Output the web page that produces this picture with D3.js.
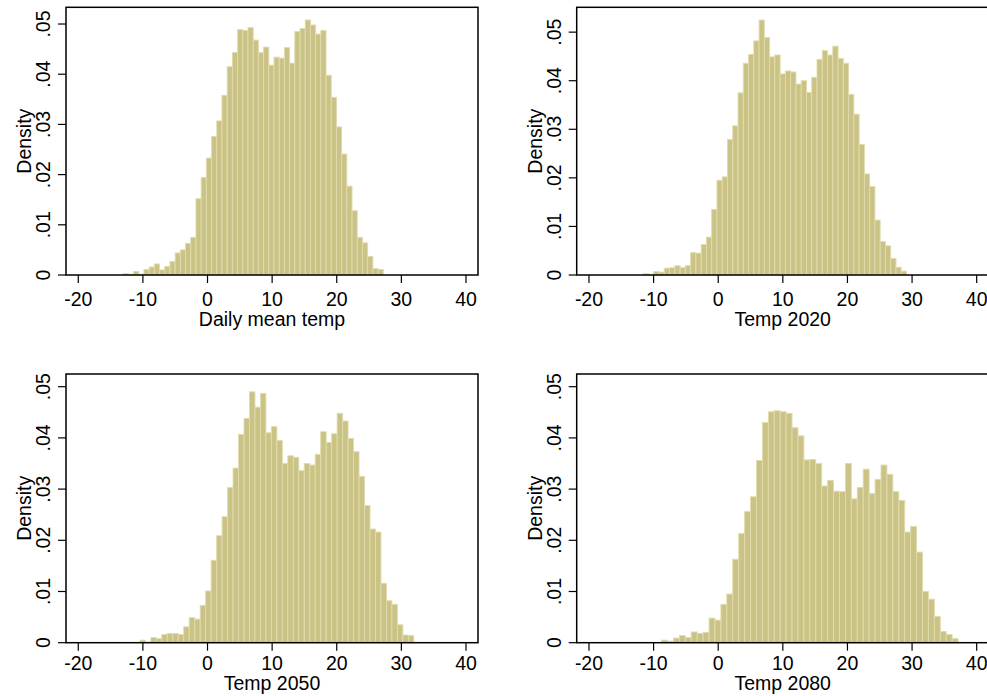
<!DOCTYPE html>
<html>
<head>
<meta charset="utf-8">
<script src="https://cdn.jsdelivr.net/npm/d3@7"></script>
<style>
  html, body { margin: 0; padding: 0; background: #fff; overflow: hidden; }
  svg { display: block; }
  text { font-family: "Liberation Sans", Arial, Helvetica, sans-serif; fill: #000; }
</style>
</head>
<body>
<svg id="chart" width="987" height="696"></svg>
<script>
// ---- data ----
const panelTitles = ["Daily mean temp", "Temp 2020", "Temp 2050", "Temp 2080"];
const binStarts = [-13.06, -11.6, -10.46, -8.76];
const binWidths = [0.8052, 0.8148, 0.8478, 0.9176];

const densityDaily = [.0003, .0001, .0007, .0002, .0011, .0016, .0022, .0010, .0017, .0027,
  .0044, .0050, .0063, .0075, .0152, .0194, .0233, .0276, .0307, .0358,
  .0415, .0443, .0489, .0487, .0493, .0468, .0443, .0454, .0418, .0434,
  .0432, .0453, .0422, .0485, .0491, .0508, .0498, .0480, .0487, .0398,
  .0354, .0295, .0241, .0177, .0128, .0075, .0064, .0037, .0013, .0011];

const density2020 = [.0003, .0001, .0007, .0006, .0014, .0015, .0019, .0015, .0019, .0046,
  .0045, .0063, .0078, .0135, .0195, .0202, .0279, .0307, .0375, .0436,
  .0454, .0482, .0525, .0489, .0449, .0453, .0414, .0420, .0418, .0393,
  .0400, .0376, .0407, .0444, .0462, .0453, .0471, .0446, .0436, .0372,
  .0331, .0269, .0208, .0182, .0113, .0069, .0060, .0034, .0016, .0008];

const density2050 = [.0005, .0001, .0010, .0008, .0016, .0018, .0018, .0016, .0031, .0049,
  .0046, .0073, .0101, .0161, .0209, .0246, .0303, .0341, .0407, .0438,
  .0490, .0460, .0487, .0410, .0422, .0395, .0350, .0365, .0362, .0336,
  .0350, .0347, .0368, .0412, .0391, .0408, .0448, .0433, .0399, .0373,
  .0325, .0268, .0222, .0216, .0116, .0082, .0075, .0035, .0015, .0014];

const density2080 = [.0005, .0003, .0009, .0014, .0010, .0021, .0018, .0020, .0048, .0044,
  .0075, .0095, .0163, .0213, .0256, .0285, .0356, .0430, .0451, .0453,
  .0451, .0448, .0420, .0404, .0357, .0358, .0350, .0306, .0317, .0296,
  .0295, .0350, .0281, .0303, .0339, .0291, .0319, .0347, .0329, .0295,
  .0278, .0216, .0227, .0177, .0100, .0085, .0051, .0022, .0016, .0008];

const panelValues = [densityDaily, density2020, density2050, density2080];
const xTicks = [-20, -10, 0, 10, 20, 30, 40];
const yTicks = [0, .01, .02, .03, .04, .05];
const yTickLabels = ["0", ".01", ".02", ".03", ".04", ".05"];
const yAxisTitle = "Density";

// ---- layout ----
const layout = [
  { left: 66,    right: 478,   top: 7.3, base: 275,   tickLab: 31,   titleOff: 51 },
  { left: 576.7, right: 988.7, top: 7.3, base: 275,   tickLab: 31,   titleOff: 51 },
  { left: 66,    right: 478,   top: 374, base: 642.7, tickLab: 27.5, titleOff: 47.5 },
  { left: 576.7, right: 988.7, top: 374, base: 642.7, tickLab: 27.5, titleOff: 47.5 }
];
const xDomain = [-21.9, 41.86];
const topMargin = 12.7;
const fontSize = 19.5;

const svg = d3.select("#chart");

layout.forEach((L, i) => {
  const vals = panelValues[i];
  const bins = vals.map((v, j) => ({
    x0: binStarts[i] + j * binWidths[i],
    x1: binStarts[i] + (j + 1) * binWidths[i],
    v: v
  }));
  const x = d3.scaleLinear().domain(xDomain).range([L.left, L.right]);
  const yMax = Math.max(d3.max(vals), 0.05);
  const y = d3.scaleLinear().domain([0, yMax]).range([L.base, L.top + topMargin]);

  const g = svg.append("g");

  // bars
  g.selectAll("rect.bar").data(bins).enter().append("rect")
    .attr("class", "bar")
    .attr("x", d => x(d.x0))
    .attr("width", d => x(d.x1) - x(d.x0))
    .attr("y", d => y(d.v))
    .attr("height", d => y(0) - y(d.v))
    .attr("fill", "#cbc385")
    .attr("stroke", "#e0dcae")
    .attr("stroke-width", 0.9);

  // box
  g.append("rect")
    .attr("x", L.left).attr("y", L.top)
    .attr("width", L.right - L.left).attr("height", L.base - L.top)
    .attr("fill", "none").attr("stroke", "#000").attr("stroke-width", 1.5);

  // x axis ticks & labels
  const xa = g.append("g").attr("transform", `translate(0,${L.base})`);
  xa.selectAll("line").data(xTicks).enter().append("line")
    .attr("x1", d => x(d)).attr("x2", d => x(d))
    .attr("y1", 0).attr("y2", 8)
    .attr("stroke", "#000").attr("stroke-width", 1.2);
  xa.selectAll("text").data(xTicks).enter().append("text")
    .attr("x", d => x(d)).attr("y", L.tickLab)
    .attr("text-anchor", "middle")
    .attr("font-size", fontSize)
    .text(d => d3.format("d")(d).replace("−", "-"));
  g.append("text")
    .attr("x", (L.left + L.right) / 2)
    .attr("y", L.base + L.titleOff)
    .attr("text-anchor", "middle")
    .attr("font-size", fontSize)
    .text(panelTitles[i]);

  // y axis ticks & labels
  const ya = g.append("g");
  ya.selectAll("line").data(yTicks).enter().append("line")
    .attr("x1", L.left - 8).attr("x2", L.left)
    .attr("y1", d => y(d)).attr("y2", d => y(d))
    .attr("stroke", "#000").attr("stroke-width", 1.2);
  ya.selectAll("text").data(yTicks).enter().append("text")
    .attr("transform", d => `translate(${L.left - 16},${y(d)}) rotate(-90)`)
    .attr("text-anchor", "middle")
    .attr("font-size", fontSize)
    .text((d, k) => yTickLabels[k]);
  g.append("text")
    .attr("transform", `translate(${L.left - 35},${(L.top + L.base) / 2}) rotate(-90)`)
    .attr("text-anchor", "middle")
    .attr("font-size", fontSize)
    .text(yAxisTitle);
});
</script>
</body>
</html>
